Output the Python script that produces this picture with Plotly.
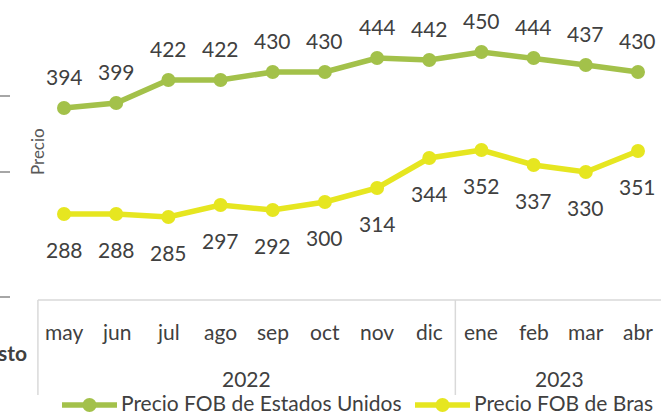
import plotly.graph_objects as go

months = ["may", "jun", "jul", "ago", "sep", "oct", "nov", "dic", "ene", "feb", "mar", "abr"]
years = ["2022", "2023"]
year_counts = [8, 4]
us_values = [394, 399, 422, 422, 430, 430, 444, 442, 450, 444, 437, 430]
br_values = [288, 288, 285, 297, 292, 300, 314, 344, 352, 337, 330, 351]
series_names = ["Precio FOB de Estados Unidos", "Precio FOB de Bras"]

W, H = 661, 412
PLOT_BOTTOM = 297  # px from top where plot area ends
GREEN = "#A3C14A"
YELLOW = "#E6E620"
TXT = "#404040"
FONT = "Lato"
FS = 21

def px(xp):
    return xp / W

def py(yp):
    return (PLOT_BOTTOM - yp) / PLOT_BOTTOM

xs = list(range(len(months)))
fig = go.Figure()
for vals, col, name in [(us_values, GREEN, series_names[0]), (br_values, YELLOW, series_names[1])]:
    fig.add_trace(go.Scatter(x=xs, y=vals, mode="lines+markers", name=name,
                             line=dict(color=col, width=5.5),
                             marker=dict(color=col, size=14),
                             showlegend=False, cliponaxis=False))

ann = []
for i, v in enumerate(us_values):
    ann.append(dict(x=i, y=v, xref="x", yref="y", text=str(v), showarrow=False,
                    yshift=32, font=dict(family=FONT, size=FS, color=TXT)))
for i, v in enumerate(br_values):
    ann.append(dict(x=i, y=v, xref="x", yref="y", text=str(v), showarrow=False,
                    yshift=-35, font=dict(family=FONT, size=FS, color=TXT)))
for i, m in enumerate(months):
    ann.append(dict(x=i, y=py(331), xref="x", yref="paper", text=m, showarrow=False,
                    yanchor="middle", font=dict(family=FONT, size=FS, color=TXT)))
start = 0
shapes = []
for y, c in zip(years, year_counts):
    ann.append(dict(x=start + (c - 1) / 2, y=py(378), xref="x", yref="paper", text=y,
                    showarrow=False, yanchor="middle", font=dict(family=FONT, size=FS, color=TXT)))
    shapes.append(dict(type="line", xref="x", yref="paper", x0=start - 0.5, x1=start - 0.5,
                       y0=py(300), y1=py(395), line=dict(color="#D9D9D9", width=1.5)))
    start += c
shapes.append(dict(type="line", xref="x", yref="paper", x0=-0.5, x1=start + 0.5,
                   y0=py(300), y1=py(300), line=dict(color="#D9D9D9", width=1.5)))
# left-edge tick marks of neighbouring axis
for yp in [96, 172, 297]:
    shapes.append(dict(type="line", xref="paper", yref="paper", x0=px(0), x1=px(10),
                       y0=py(yp), y1=py(yp), line=dict(color="#A6A6A6", width=2)))

ann.append(dict(x=px(37), y=py(152), xref="paper", yref="paper", text="Precio", textangle=-90,
                xanchor="center", yanchor="middle",
                showarrow=False, font=dict(family=FONT, size=17, color="#595959")))
ann.append(dict(x=px(29), y=py(352), xref="paper", yref="paper", text="<b>sto</b>",
                xanchor="right", yanchor="middle", showarrow=False,
                font=dict(family=FONT, size=FS, color=TXT)))

# manual legend
legend_items = [(62, 117, GREEN, series_names[0]), (415, 470, YELLOW, series_names[1])]
for x0, x1, col, name in legend_items:
    shapes.append(dict(type="line", xref="paper", yref="paper", x0=px(x0), x1=px(x1),
                       y0=py(405), y1=py(405), line=dict(color=col, width=5.5)))
    cx = (x0 + x1) / 2
    shapes.append(dict(type="circle", xref="paper", yref="paper", x0=px(cx - 7), x1=px(cx + 7),
                       y0=py(412), y1=py(398), fillcolor=col, line=dict(width=0)))
    ann.append(dict(x=px(x1 + 2), y=py(402), xref="paper", yref="paper", text=name,
                    xanchor="left", yanchor="middle", showarrow=False,
                    font=dict(family=FONT, size=FS, color=TXT)))

step = 52.18
fig.update_layout(
    width=W, height=H,
    margin=dict(l=0, r=0, t=0, b=H - PLOT_BOTTOM, pad=0),
    paper_bgcolor="white", plot_bgcolor="white",
    xaxis=dict(range=[-64 / step, (W - 64) / step], showgrid=False, zeroline=False,
               showticklabels=False, ticks="", showline=False),
    yaxis=dict(range=[502 - PLOT_BOTTOM, 502], showgrid=False, zeroline=False,
               showticklabels=False, ticks="", showline=False),
    annotations=ann, shapes=shapes,
)
fig.write_html("out.html", config={"displayModeBar": False},
               post_script="document.body.style.margin='0';document.body.style.overflow='hidden';")
